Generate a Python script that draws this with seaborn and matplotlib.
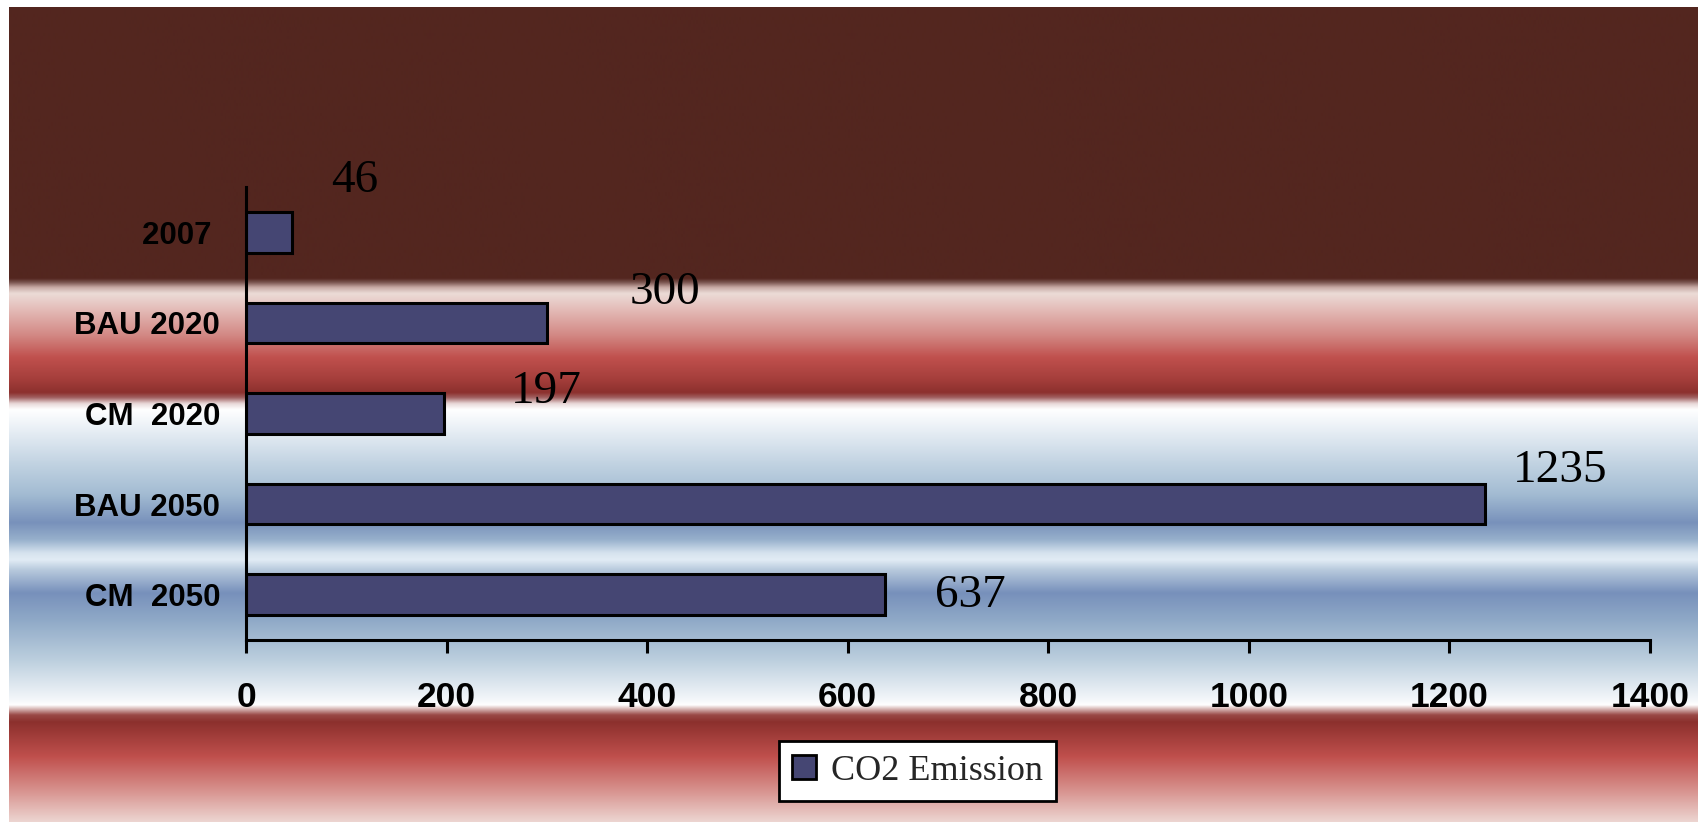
import numpy as np
import pandas as pd
import matplotlib
matplotlib.use("Agg")
import matplotlib.pyplot as plt
import seaborn as sns
from matplotlib.colors import to_rgb
from matplotlib.patches import Patch

# ---------------- data ----------------
categories = ["2007 ", "BAU 2020", "CM  2020", "BAU 2050", "CM  2050"]
emissions = [46, 300, 197, 1235, 637]
series_name = "CO2 Emission"
x_ticks = [0, 200, 400, 600, 800, 1000, 1200, 1400]

# ---------------- style ----------------
bar_color = "#454673"
# manual label placement (pixel offsets from bar end / bar centre)
label_offsets_px = [(63, 40), (118, 19), (103, 11), (76, 22), (86, -12)]

# background gradient stops: (pixel row from top, colour)
bg_stops = [
    (7, "#53261f"), (279, "#53261f"), (283, "#7a5550"), (288, "#c8aaa5"),
    (294, "#ecdcd7"), (310, "#e4bcb8"), (335, "#d38a86"), (358, "#c0504d"),
    (380, "#a43e3b"), (393, "#8c302d"), (398, "#a06060"), (404, "#e8d8d8"),
    (410, "#ffffff"), (425, "#eef3f8"), (460, "#c6d6e4"), (495, "#a2bbd2"),
    (523, "#7891bb"), (540, "#97b0cc"), (553, "#d5e2ee"), (560, "#e2ecf5"),
    (570, "#b8cadd"), (593, "#7790bb"), (620, "#8fa9c7"), (660, "#bccfde"),
    (700, "#f4f7fa"), (705, "#ffffff"), (709, "#d8b8b6"), (715, "#9a4a47"),
    (722, "#8c302d"), (757, "#c0504d"), (790, "#d7918d"), (822, "#edd6d2"),
]

sns.set_style("ticks")
plt.rcParams["font.family"] = ["Liberation Sans", "DejaVu Sans"]

W, H = 1703, 822
fig = plt.figure(figsize=(W / 100, H / 100), dpi=100)
fig.patch.set_facecolor("white")

# background gradient panel
bx0, bx1, by0, by1 = 9, 1698, 7, 822
bg = fig.add_axes([bx0 / W, 1 - by1 / H, (bx1 - bx0) / W, (by1 - by0) / H], zorder=0)
rows = np.arange(by0, by1) + 0.5
ys = np.array([s[0] for s in bg_stops], dtype=float)
cs = np.array([to_rgb(s[1]) for s in bg_stops])
img = np.stack([np.interp(rows, ys, cs[:, k]) for k in range(3)], axis=-1)
img = np.repeat(img[:, None, :], 4, axis=1)
bg.imshow(img, aspect="auto", interpolation="bilinear", extent=(0, 1, 0, 1))
bg.axis("off")

# main plot axes
ax_left, ax_right, ax_top, ax_bottom = 246, 1650, 187, 640
ax = fig.add_axes([ax_left / W, 1 - ax_bottom / H, (ax_right - ax_left) / W,
                   (ax_bottom - ax_top) / H], zorder=1)
ax.patch.set_alpha(0)

df = pd.DataFrame({"Category": categories, "Emission": emissions})
sns.barplot(data=df, x="Emission", y="Category", orient="h", color=bar_color,
            saturation=1, edgecolor="black", linewidth=2.2, width=0.45, ax=ax)
if ax.get_legend() is not None:
    ax.get_legend().remove()

ax.set_xlim(0, 1400)
ax.set_ylim(len(categories) - 0.5, -0.5)
ax.set_xticks(x_ticks)
ax.set_xticklabels([str(t) for t in x_ticks], fontsize=25.5, fontweight="bold",
                   family="Liberation Sans")
ax.set_yticks(range(len(categories)))
ax.set_yticklabels(categories, fontsize=22.5, fontweight="bold", family="Liberation Sans")
ax.set_xlabel("")
ax.set_ylabel("")
ax.tick_params(axis="x", direction="out", length=9.4, width=2.2, pad=20, colors="black")
ax.tick_params(axis="y", length=0, pad=18.7, colors="black")
for side in ["top", "right"]:
    ax.spines[side].set_visible(False)
for side in ["left", "bottom"]:
    ax.spines[side].set_linewidth(2.2)
    ax.spines[side].set_color("black")
ax.grid(False)

# value labels
for i, (v, (dx, dy)) in enumerate(zip(emissions, label_offsets_px)):
    ax.annotate(str(v), xy=(v, i), xytext=(dx, dy), textcoords="offset pixels",
                ha="center", va="baseline", fontsize=34, family="Liberation Serif",
                color="black", annotation_clip=False)

# legend
handle = Patch(facecolor=bar_color, edgecolor="black", linewidth=2)
leg = fig.legend([handle], [series_name], loc="center",
                 bbox_to_anchor=(917.5 / W, 1 - 771 / H),
                 prop={"family": "Liberation Serif", "size": 26},
                 frameon=True, fancybox=False, framealpha=1, facecolor="white",
                 edgecolor="black", handlelength=0.64, handleheight=0.64,
                 handletextpad=0.42, borderpad=0.38)
leg.get_frame().set_linewidth(2)
leg.set_zorder(5)

fig.savefig("out.png", dpi=100, facecolor="white")
